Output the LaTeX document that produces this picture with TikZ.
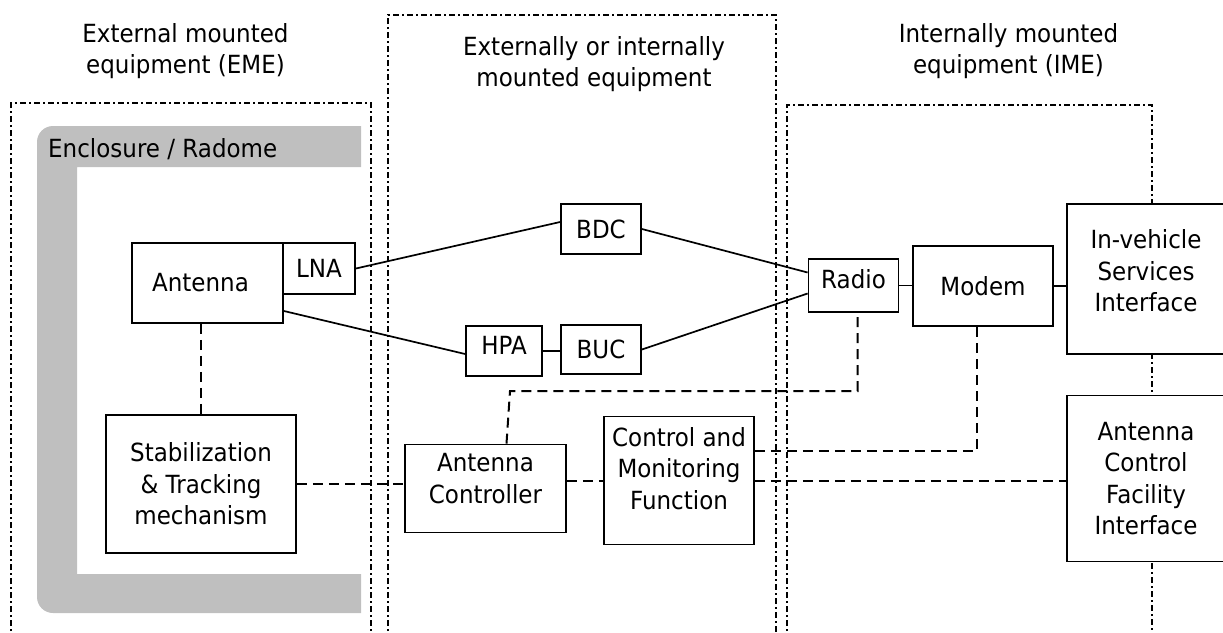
\documentclass[tikz,border=0pt]{standalone}
\usepackage{fontspec}
\setmainfont{DejaVu Sans}[FakeStretch=0.92]
\tikzset{
    txt/.style={align=center, font=\fontsize{25}{31.5}\selectfont},
    box/.style={txt, draw, line width=1.8pt, fill=white, inner sep=2pt},
    zone/.style={line width=2pt, dash pattern=on 6pt off 3pt on 2pt off 3pt},
    link/.style={line width=1.7pt},
    ctrl/.style={line width=2pt, dash pattern=on 10pt off 6pt},
    encl/.style={fill=black!25},
}

\begin{document}
\begin{tikzpicture}[x=1pt, y=-1pt]
    \useasboundingbox (0,0) rectangle (1223,632);
    \draw[zone] (11,640) -- (11,103) -- (371,103) -- (371,640);
    \draw[zone] (388,640) -- (388,15) -- (776,15) -- (776,640);
    \draw[zone] (787,640) -- (787,105) -- (1152,105) -- (1152,640);
    \fill[encl] (361,126) [rounded corners=16pt] -- (37,126) -- (37,613) [sharp corners] -- (361,613) -- (361,574) -- (77,574) -- (77,167) -- (361,167) -- cycle;
    \node[txt, anchor=base west, inner sep=0pt] (radome) at (48,157) {Enclosure / Radome};
    \node[txt] (emetitle) at (185.5,51) {External mounted\\equipment (EME)};
    \node[txt] (mixtitle) at (594,64) {Externally or internally\\mounted equipment};
    \node[txt] (imetitle) at (1008.5,51) {Internally mounted\\equipment (IME)};

    \node[box, minimum width=151pt, minimum height=80pt, label={[txt, xshift=-7pt]center:Antenna}] (ant) at (207.5,283) {};
    \node[box, minimum width=72pt, minimum height=51pt] (lna) at (319,268.5) {LNA};
    \node[box, minimum width=190pt, minimum height=138pt] (stab) at (201,484) {Stabilization\\\& Tracking\\mechanism};
    \node[box, minimum width=161pt, minimum height=88pt, label={[txt, yshift=10pt]center:Antenna\\Controller}] (ac) at (485.5,488.5) {};
    \node[box, minimum width=150pt, minimum height=128pt, label={[txt, yshift=12pt]center:Control and\\Monitoring\\Function}] (cmf) at (679,480.5) {};
    \node[box, minimum width=80pt, minimum height=50pt] (bdc) at (601,229) {BDC};
    \node[box, minimum width=76pt, minimum height=50pt, label={[txt, yshift=6pt]center:HPA}] (hpa) at (504,351) {};
    \node[box, minimum width=80pt, minimum height=49pt] (buc) at (601,349.5) {BUC};
    \node[box, minimum width=90pt, minimum height=53pt, label={[txt, yshift=6pt]center:Radio}] (radio) at (853.5,285.5) {};
    \node[box, minimum width=140pt, minimum height=80pt] (modem) at (983,286) {Modem};
    \node[box, minimum width=158pt, minimum height=150pt, label={[txt, yshift=8pt]center:In-vehicle\\Services\\Interface}] (isi) at (1146,279) {};
    \node[box, minimum width=158pt, minimum height=166pt] (acfi) at (1146,478.5) {Antenna\\Control\\Facility\\Interface};

    \draw[link] (lna.east) -- ([yshift=7pt]bdc.west);
    \draw[link] ([yshift=-28pt]ant.east) -- ([yshift=-3pt]hpa.west);
    \draw[link] (hpa.east) -- (hpa.east -| buc.west);
    \draw[link] (bdc.east) -- ([yshift=13pt]radio.west);
    \draw[link] (buc.east) -- ([yshift=-8pt]radio.west);
    \draw[link] (radio.east) -- (radio.east -| modem.west);
    \draw[link] (modem.east) -- (modem.east -| isi.west);

    \coordinate (bend) at (510,391);
    \coordinate (rb) at ([xshift=4pt]radio.south);
    \coordinate (mb) at ([xshift=-6pt]modem.south);
    \coordinate (cm) at ([yshift=30pt]cmf.east);
    \draw[ctrl] (stab.north |- ant.south) -- (stab.north);
    \draw[ctrl] (stab.east) -- (stab.east -| ac.west);
    \draw[ctrl] (cmf.west -| ac.east) -- (cmf.west);
    \draw[ctrl] ([xshift=21pt]ac.north) -- (bend) -- (bend -| rb) -- (rb);
    \draw[ctrl] (cm) -- (cm -| mb) -- (mb);
    \draw[ctrl] (cmf.east) -- (cmf.east -| acfi.west);
\end{tikzpicture}
\end{document}
